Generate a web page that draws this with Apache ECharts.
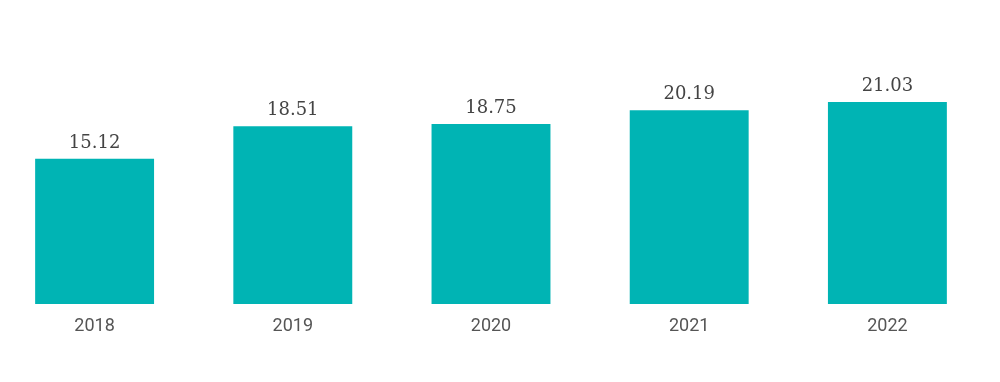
<!DOCTYPE html>
<html><head><meta charset="utf-8">
<script src="https://cdn.jsdelivr.net/npm/echarts@6/dist/echarts.min.js"></script>
<style>html,body{margin:0;padding:0;background:#fff;overflow:hidden}#c{width:1005px;height:382px;margin-left:-5px}</style>
</head><body><div id="c"></div>
<script>
const categories = ['2018', '2019', '2020', '2021', '2022'];
const values = [15.12, 18.51, 18.75, 20.19, 21.03];

const chart = echarts.init(document.getElementById('c'), null, {renderer: 'canvas'});
chart.setOption({
  animation: false,
  grid: {left: 0.5, right: 13.5, top: 16, bottom: 78, containLabel: false},
  xAxis: {
    type: 'category', data: categories,
    axisLine: {show: false}, axisTick: {show: false},
    axisLabel: {color: '#555', fontSize: 18, fontFamily: 'Roboto', margin: 13}
  },
  yAxis: {type: 'value', min: 0, max: 30, show: false, splitLine: {show: false}},
  series: [{
    type: 'bar', data: values, barWidth: '60%',
    itemStyle: {color: '#00B4B4'},
    label: {show: true, position: 'top', distance: 7, color: '#444', fontSize: 18,
      fontFamily: 'DejaVu Serif', formatter: p => p.value.toFixed(2)}
  }]
});
</script></body></html>
